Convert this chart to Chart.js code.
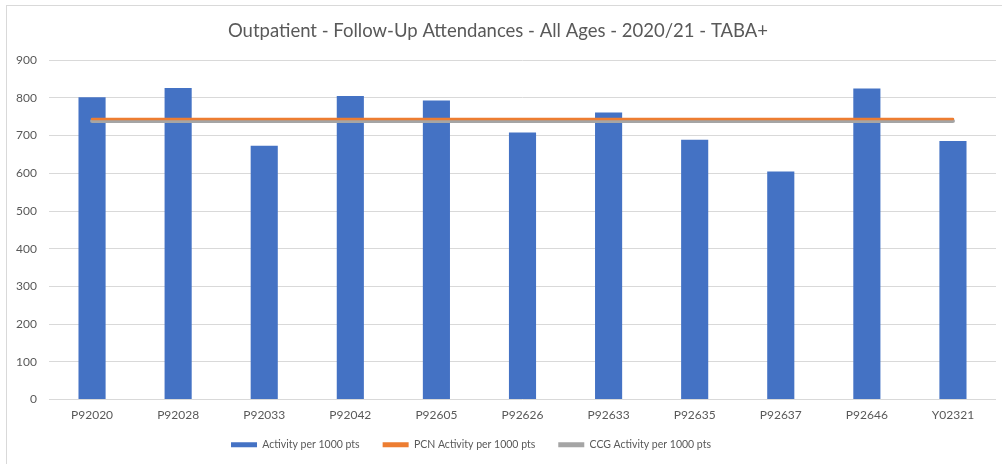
<!DOCTYPE html>
<html>
<head>
<meta charset="utf-8">
<title>Outpatient - Follow-Up Attendances</title>
<script src="https://cdn.jsdelivr.net/npm/chart.js@4.4.1/dist/chart.umd.min.js"></script>
<style>
  html, body { margin: 0; padding: 0; background: #ffffff; }
  #wrap { position: relative; width: 1002px; height: 464px; overflow: hidden; }
  #frame { position: absolute; left: 6px; top: 5px; width: 1010px; height: 480px;
           border-left: 1px solid #d9d9d9; border-top: 1px solid #d9d9d9; box-sizing: border-box; }
  canvas { position: absolute; left: 0; top: 0; }
</style>
</head>
<body>
<div id="wrap">
  <div id="frame"></div>
  <canvas id="chart" width="1002" height="464"></canvas>
</div>
<script>
// Practices and their follow-up attendance rates (per 1000 patients)
const practices = ["P92020", "P92028", "P92033", "P92042", "P92605", "P92626",
                   "P92633", "P92635", "P92637", "P92646", "Y02321"];
const activityPer1000 = [802, 826, 673, 805, 793, 708, 761, 689, 605, 825, 686];
const pcnRate = 744;   // PCN average activity per 1000 pts
const ccgRate = 739;   // CCG average activity per 1000 pts
const yTicks = [0, 100, 200, 300, 400, 500, 600, 700, 800, 900];

const chartTitle = "Outpatient - Follow-Up Attendances - All Ages - 2020/21 - TABA+";
const seriesNames = ["Activity per 1000 pts", "PCN Activity per 1000 pts", "CCG Activity per 1000 pts"];

const FONT = "Lato, sans-serif";
const TEXT = "#595959";
const GRID = "#d9d9d9";
const BLUE = "#4472c4", ORANGE = "#ed7d31", GREY = "#a5a5a5";

const pcnLine = practices.map(() => pcnRate);
const ccgLine = practices.map(() => ccgRate);

// Layout tweaks: let the category labels overflow their slim box,
// and nudge the legend row a little to the left of the canvas centre
const layoutTweaks = {
  id: "layoutTweaks",
  afterLayout(chart) {
    chart.scales.x.bottom += 20;
  },
  beforeDraw(chart) {
    const lg = chart.legend;
    if (lg && !lg._shifted) {
      lg.left -= 27;
      lg.right -= 27;
      lg._shifted = true;
    }
  }
};

new Chart(document.getElementById("chart"), {
  type: "bar",
  data: {
    labels: practices,
    datasets: [
      {
        type: "bar",
        label: seriesNames[0],
        data: activityPer1000,
        backgroundColor: BLUE,
        borderWidth: 0,
        categoryPercentage: 1.0,
        barPercentage: 0.315,
        order: 3
      },
      {
        type: "line",
        label: seriesNames[1],
        data: pcnLine,
        borderColor: ORANGE,
        backgroundColor: ORANGE,
        borderWidth: 2.5,
        borderCapStyle: "round",
        pointRadius: 0,
        fill: false,
        order: 1
      },
      {
        type: "line",
        label: seriesNames[2],
        data: ccgLine,
        borderColor: GREY,
        backgroundColor: GREY,
        borderWidth: 4,
        borderCapStyle: "round",
        pointRadius: 0,
        fill: false,
        order: 2
      }
    ]
  },
  plugins: [layoutTweaks],
  options: {
    responsive: false,
    animation: false,
    events: [],
    layout: { padding: { left: 0, right: 6, top: 0, bottom: 4 } },
    plugins: {
      title: {
        display: true,
        text: chartTitle,
        color: TEXT,
        font: { family: FONT, size: 18.5, weight: "normal" },
        padding: { top: 20, bottom: 18 }
      },
      legend: {
        position: "bottom",
        labels: {
          color: TEXT,
          font: { family: FONT, size: 10.5 },
          boxWidth: 26,
          boxHeight: 5,
          padding: 23,
          generateLabels: (chart) => chart.data.datasets.map((ds, i) => ({
            text: ds.label,
            fillStyle: i === 0 ? ds.backgroundColor : ds.borderColor,
            strokeStyle: i === 0 ? ds.backgroundColor : ds.borderColor,
            lineWidth: 0,
            fontColor: TEXT,
            datasetIndex: i,
            hidden: false
          }))
        }
      },
      tooltip: { enabled: false }
    },
    scales: {
      x: {
        afterFit: (s) => { s.height = 17; },
        grid: { display: false, drawTicks: false },
        border: { display: false },
        ticks: { color: TEXT, font: { family: FONT, size: 12 }, padding: 8, maxRotation: 0 }
      },
      y: {
        min: 0,
        max: 900,
        afterBuildTicks: (s) => { s.ticks = yTicks.map(v => ({ value: v })); },
        afterFit: (s) => { s.width = 49; },
        grid: { color: GRID, lineWidth: 1, drawTicks: false },
        border: { display: false },
        ticks: { color: TEXT, font: { family: FONT, size: 12 }, padding: 12 }
      }
    }
  }
});
</script>
</body>
</html>
